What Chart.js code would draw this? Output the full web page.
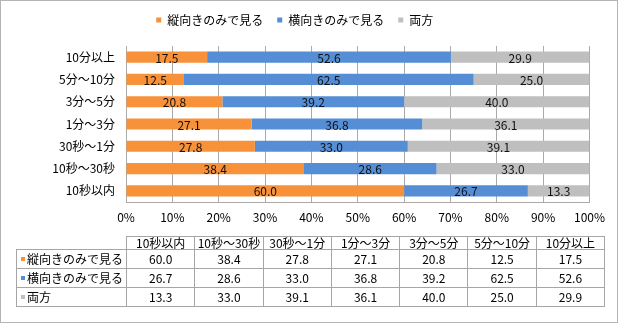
<!DOCTYPE html>
<html lang="ja">
  <head>
    <meta charset="UTF-8" />
    <title>縦向き・横向き</title>
    <style>
      body {
        margin: 0;
        background: #fff;
        font-family: "Noto Sans CJK JP", sans-serif;
        color: #000;
      }
      #wrap {
        position: relative;
        width: 620px;
        height: 324px;
      }
      #frame {
        position: absolute;
        left: 0;
        top: 0;
        width: 616px;
        height: 321px;
        border: 1px solid #b4b4b4;
      }
      canvas {
        position: absolute;
        left: 0;
        top: 0;
      }
      #dataTable {
        position: absolute;
        left: 16px;
        top: 236px;
        border-collapse: collapse;
        table-layout: fixed;
        font-size: 12px;
      }
      #dataTable td {
        border: 1px solid #a6a6a6;
        padding: 0;
        text-align: center;
        height: 18px;
        line-height: 18px;
        white-space: nowrap;
        overflow: hidden;
      }
      #dataTable tr.head td {
        height: 12px;
        line-height: 12px;
      }
      #dataTable tr.head td.blank {
        border-top: none;
        border-left: none;
      }
      #dataTable td.name {
        text-align: left;
        padding-left: 4px;
      }
      .mark {
        display: inline-block;
        width: 4px;
        height: 4px;
        margin-right: 2px;
        vertical-align: 3px;
      }
    </style>
  </head>
  <body>
    <div id="wrap">
      <div id="frame"></div>
      <canvas id="chart" width="620" height="324"></canvas>
      <table id="dataTable"></table>
    </div>

    <script src="https://cdn.jsdelivr.net/npm/chart.js"></script>
    <script>
      const categories = ["10秒以内", "10秒～30秒", "30秒～1分", "1分～3分", "3分～5分", "5分～10分", "10分以上"];
      const seriesNames = ["縦向きのみで見る", "横向きのみで見る", "両方"];
      const tateOnly = [60.0, 38.4, 27.8, 27.1, 20.8, 12.5, 17.5];
      const yokoOnly = [26.7, 28.6, 33.0, 36.8, 39.2, 62.5, 52.6];
      const both = [13.3, 33.0, 39.1, 36.1, 40.0, 25.0, 29.9];
      const xTickLabels = ["0%", "10%", "20%", "30%", "40%", "50%", "60%", "70%", "80%", "90%", "100%"];
      const colors = ["#f7913a", "#558ed5", "#bfbfbf"];
      const values = [tateOnly, yokoOnly, both];

      Chart.defaults.font.family = "'Noto Sans CJK JP', sans-serif";
      Chart.defaults.font.size = 12;
      Chart.defaults.color = "#000";

      // 凡例の高さを固定して、グラフ領域の上端を合わせる
      const legendHeight = {
        id: "legendHeight",
        beforeInit(chart) {
          const fit = chart.legend.fit;
          chart.legend.fit = function () {
            fit.bind(chart.legend)();
            this.height = 46;
          };
        },
      };

      // 各セグメントの中央に値を描く
      const segmentLabels = {
        id: "segmentLabels",
        afterDatasetsDraw(chart) {
          const ctx = chart.ctx;
          ctx.save();
          ctx.font = "12px 'Noto Sans CJK JP', sans-serif";
          ctx.fillStyle = "#111";
          ctx.textAlign = "center";
          ctx.textBaseline = "middle";
          chart.data.datasets.forEach((ds, i) => {
            chart.getDatasetMeta(i).data.forEach((bar, j) => {
              const p = bar.getProps(["x", "y", "base"], true);
              ctx.fillText(ds.data[j].toFixed(1), (p.x + p.base) / 2, p.y + 1);
            });
          });
          ctx.restore();
        },
      };

      new Chart(document.getElementById("chart"), {
        type: "bar",
        data: {
          labels: categories,
          datasets: seriesNames.map((name, i) => ({
            label: name,
            data: values[i],
            backgroundColor: colors[i],
            borderWidth: 0,
            barPercentage: 0.5,
            categoryPercentage: 1.0,
          })),
        },
        options: {
          indexAxis: "y",
          responsive: false,
          animation: false,
          layout: { padding: { top: 0, left: 0, right: 30.5, bottom: 0 } },
          scales: {
            x: {
              stacked: true,
              min: 0,
              max: 100,
              ticks: {
                stepSize: 10,
                padding: 8,
                maxRotation: 0,
                callback: (v, idx) => xTickLabels[idx],
              },
              grid: { color: "#aaaaaa", drawTicks: false },
              border: { color: "#aaaaaa" },
              afterFit(scale) {
                scale.height = 122;
              },
            },
            y: {
              stacked: true,
              reverse: true,
              ticks: { padding: 11 },
              grid: { display: false, drawTicks: false },
              border: { display: true, color: "#aaaaaa" },
              afterFit(scale) {
                scale.width = 126;
              },
            },
          },
          plugins: {
            legend: {
              position: "top",
              labels: { boxWidth: 5, boxHeight: 5, padding: 14, color: "#000" },
            },
            tooltip: { enabled: false },
          },
        },
        plugins: [legendHeight, segmentLabels],
      });

      // データテーブル
      const table = document.getElementById("dataTable");
      let html = '<colgroup><col style="width:110px">';
      categories.forEach(() => (html += '<col style="width:68.3px">'));
      html += '</colgroup><tr class="head"><td class="blank"></td>';
      categories.forEach((c) => (html += "<td>" + c + "</td>"));
      html += "</tr>";
      seriesNames.forEach((name, i) => {
        html += '<tr><td class="name"><span class="mark" style="background:' + colors[i] + '"></span>' + name + "</td>";
        values[i].forEach((v) => (html += "<td>" + v.toFixed(1) + "</td>"));
        html += "</tr>";
      });
      table.innerHTML = html;
    </script>
  </body>
</html>
